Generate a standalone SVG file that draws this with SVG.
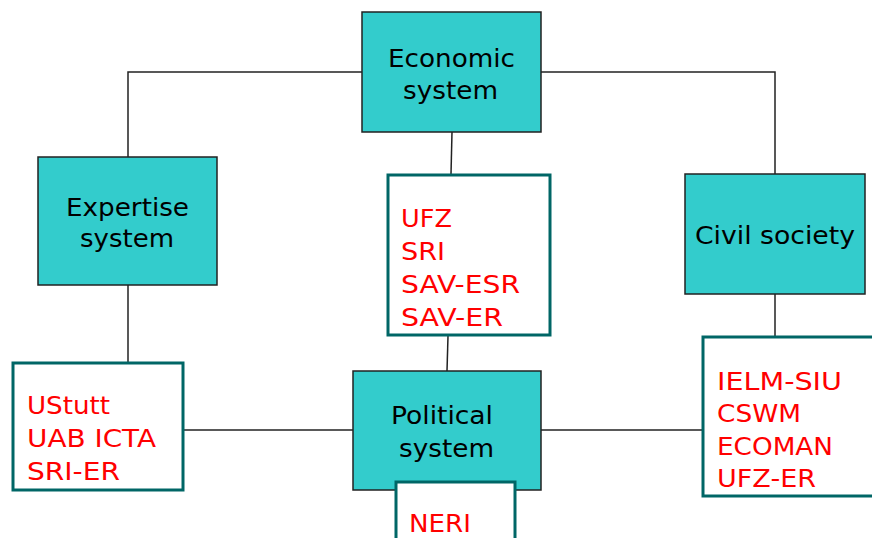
<svg xmlns="http://www.w3.org/2000/svg" width="872" height="538" viewBox="0 0 872 538">
<style>
.sys{fill:#33CCCC;stroke:#222;stroke-width:1.5}
.mem{fill:#fff;stroke:#006666;stroke-width:3}
.lbl{font-family:"DejaVu Sans",Verdana,sans-serif;font-size:24px;fill:#000}
.org{font-family:"DejaVu Sans",Verdana,sans-serif;font-size:24px;fill:#FF0000}
.conn{fill:none;stroke:#222;stroke-width:1.5}
</style>
<rect width="872" height="538" fill="#fff"/>
<g id="connectors">
<polyline class="conn" points="362,72 128,72 128,157"/>
<polyline class="conn" points="541,72 775,72 775,174"/>
<line class="conn" x1="452" y1="132" x2="451" y2="174"/>
<line class="conn" x1="448" y1="336" x2="447" y2="371"/>
<line class="conn" x1="128" y1="285" x2="128" y2="362"/>
<line class="conn" x1="775" y1="294" x2="775" y2="336"/>
<line class="conn" x1="184" y1="430" x2="353" y2="430"/>
<line class="conn" x1="541" y1="430" x2="702" y2="430"/>
</g>
<g id="economic">
<rect class="sys" x="362" y="12" width="179" height="120"/>
<text class="lbl" x="388" y="67" textLength="127" lengthAdjust="spacingAndGlyphs">Economic</text>
<text class="lbl" x="403" y="99" textLength="95" lengthAdjust="spacingAndGlyphs">system</text>
</g>
<g id="expertise">
<rect class="sys" x="38" y="157" width="179" height="128"/>
<text class="lbl" x="66" y="216" textLength="123" lengthAdjust="spacingAndGlyphs">Expertise</text>
<text class="lbl" x="80" y="247" textLength="94" lengthAdjust="spacingAndGlyphs">system</text>
</g>
<g id="civil">
<rect class="sys" x="685" y="174" width="180" height="120"/>
<text class="lbl" x="695" y="244" textLength="160" lengthAdjust="spacingAndGlyphs">Civil society</text>
</g>
<g id="political">
<rect class="sys" x="353" y="371" width="188" height="119"/>
<text class="lbl" x="391" y="424" textLength="102" lengthAdjust="spacingAndGlyphs">Political</text>
<text class="lbl" x="399" y="457" textLength="95" lengthAdjust="spacingAndGlyphs">system</text>
</g>
<g id="ufz-group">
<rect class="mem" x="388" y="175" width="162" height="160"/>
<text class="org" x="401" y="227" textLength="51" lengthAdjust="spacingAndGlyphs">UFZ</text>
<text class="org" x="401" y="260" textLength="44" lengthAdjust="spacingAndGlyphs">SRI</text>
<text class="org" x="401" y="293" textLength="119" lengthAdjust="spacingAndGlyphs">SAV-ESR</text>
<text class="org" x="401" y="326" textLength="102" lengthAdjust="spacingAndGlyphs">SAV-ER</text>
</g>
<g id="ustutt-group">
<rect class="mem" x="13" y="363" width="170" height="127"/>
<text class="org" x="27" y="414" textLength="83" lengthAdjust="spacingAndGlyphs">UStutt</text>
<text class="org" x="27" y="447" textLength="129" lengthAdjust="spacingAndGlyphs">UAB ICTA</text>
<text class="org" x="27" y="480" textLength="93" lengthAdjust="spacingAndGlyphs">SRI-ER</text>
</g>
<g id="ielm-group">
<rect class="mem" x="703" y="337" width="175" height="159"/>
<text class="org" x="717" y="390" textLength="125" lengthAdjust="spacingAndGlyphs">IELM-SIU</text>
<text class="org" x="717" y="422" textLength="84" lengthAdjust="spacingAndGlyphs">CSWM</text>
<text class="org" x="717" y="455" textLength="116" lengthAdjust="spacingAndGlyphs">ECOMAN</text>
<text class="org" x="717" y="487" textLength="99" lengthAdjust="spacingAndGlyphs">UFZ-ER</text>
</g>
<g id="neri-group">
<rect class="mem" x="396" y="482" width="119" height="70"/>
<text class="org" x="409" y="532" textLength="62" lengthAdjust="spacingAndGlyphs">NERI</text>
</g>
</svg>
